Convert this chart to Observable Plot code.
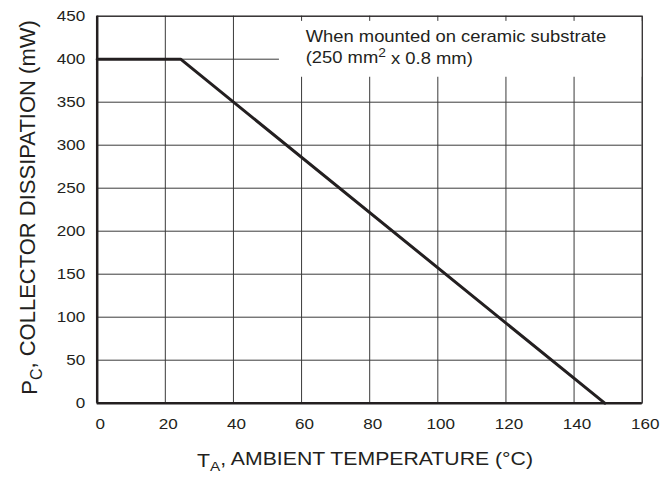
<!DOCTYPE html>
<html>
<head>
<meta charset="utf-8">
<script src="https://cdn.jsdelivr.net/npm/d3@7"></script>
<script src="https://cdn.jsdelivr.net/npm/@observablehq/plot@0.6"></script>
<style>
  html, body { margin: 0; padding: 0; background: #fff; }
  #chart svg { display: block; }
</style>
</head>
<body>
<div id="chart"></div>
<script>
// Derating curve: ambient temperature (°C) vs collector dissipation (mW)
const tempC = [0, 24.5, 149];
const powerMW = [400, 400, 0];

// Axis tick values
const xTicks = [0, 20, 40, 60, 80, 100, 120, 140, 160];
const yTicks = [0, 50, 100, 150, 200, 250, 300, 350, 400, 450];

// Annotation text and the white box behind it (data units)
const noteLines = ["When mounted on ceramic substrate", "(250 mm2 x 0.8 mm)"];
const noteX = [61.2, 61.2];
const noteY = [420.5, 396];
const noteBox = [{x1: 53.5, x2: 160, y1: 379, y2: 444}];

const curve = tempC.map((t, i) => ({t, p: powerMW[i]}));
const notes = noteLines.map((s, i) => ({s, x: noteX[i], y: noteY[i]}));

const ink = "#231f20";
const gridInk = "#3a3a3a";
const font = "'Liberation Sans', Arial, Helvetica, sans-serif";

const chart = Plot.plot({
  width: 663,
  height: 485,
  marginLeft: 96.7,
  marginRight: 21.3,
  marginTop: 15.7,
  marginBottom: 82.3,
  style: {fontFamily: font, fontSize: "14px", color: ink, background: "#fff"},
  x: {domain: [0, 160]},
  y: {domain: [0, 450]},
  marks: [
    Plot.gridX(xTicks, {stroke: gridInk, strokeOpacity: 1, strokeWidth: 1}),
    Plot.gridY(yTicks, {stroke: gridInk, strokeOpacity: 1, strokeWidth: 1}),
    Plot.rect(noteBox, {x1: "x1", x2: "x2", y1: "y1", y2: "y2", fill: "white"}),
    Plot.frame({stroke: ink, strokeWidth: 1}),
    Plot.ruleX([0], {stroke: ink, strokeWidth: 2.5}),
    Plot.ruleY([0], {stroke: ink, strokeWidth: 2.5}),
    Plot.line(curve, {x: "t", y: "p", stroke: ink, strokeWidth: 3, strokeLinejoin: "miter"}),
    Plot.axisX(xTicks, {tickSize: 0, tickPadding: 16, dx: 3, label: null, fontSize: 14}),
    Plot.axisY(yTicks, {tickSize: 0, tickPadding: 12, label: null, fontSize: 14}),
    Plot.text(notes, {x: "x", y: "y", text: "s", textAnchor: "start", lineAnchor: "bottom", fontSize: 16, fill: ink})
  ]
});

document.getElementById("chart").appendChild(chart);

const svg = d3.select(chart);

// Superscript in the annotation
svg.selectAll("text").filter(function () { return this.textContent === "(250 mm2 x 0.8 mm)"; })
  .each(function () {
    const t = d3.select(this);
    t.text(null);
    t.append("tspan").text("(250 mm");
    t.append("tspan").attr("font-size", "12px").attr("dy", "-0.45em").text("2");
    t.append("tspan").attr("dy", "0.45em").text(" x 0.8 mm)");
  });

// Axis titles with subscripts
const xl = svg.append("text")
  .attr("x", 533).attr("y", 467)
  .attr("text-anchor", "end")
  .attr("font-family", font)
  .attr("font-size", "18px").attr("fill", ink);
xl.append("tspan").text("T");
xl.append("tspan").attr("font-size", "13px").attr("dy", "0.3em").text("A");
xl.append("tspan").attr("dy", "-0.3em").text(", AMBIENT TEMPERATURE (°C)");

const yl = svg.append("text")
  .attr("transform", "translate(37,207.5) rotate(-90)")
  .attr("text-anchor", "middle")
  .attr("font-family", font)
  .attr("font-size", "22px").attr("fill", ink);
yl.append("tspan").text("P");
yl.append("tspan").attr("font-size", "16px").attr("dy", "0.3em").text("C");
yl.append("tspan").attr("dy", "-0.3em").text(", COLLECTOR DISSIPATION (mW)");

// The reference's lettering is horizontally wide; widen glyphs about their anchor
function stretch(sel, s) {
  sel.each(function () {
    const b = this.getBBox();
    const anchor = window.getComputedStyle(this).textAnchor;
    const ax = anchor === "end" ? b.x + b.width : anchor === "middle" ? b.x + b.width / 2 : b.x;
    const t = this.getAttribute("transform") || "";
    this.setAttribute("transform", `${t} translate(${ax},0) scale(${s},1) translate(${-ax},0)`.trim());
  });
}
stretch(svg.selectAll('g[aria-label="x-axis tick label"] text'), 1.22);
stretch(svg.selectAll('g[aria-label="y-axis tick label"] text'), 1.22);
stretch(svg.selectAll('g[aria-label="text"] text'), 1.15);
stretch(xl, 1.18);
</script>
</body>
</html>
